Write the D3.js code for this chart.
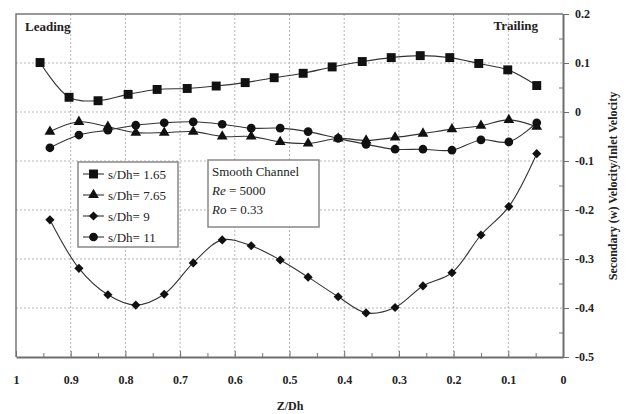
<!DOCTYPE html>
<html>
<head>
<meta charset="utf-8">
<script src="https://cdn.jsdelivr.net/npm/d3@7"></script>
<style>
  body { margin: 0; background: #fff; }
  text { font-family: "Liberation Serif", "DejaVu Serif", serif; fill: #222; }
</style>
</head>
<body>
<svg id="chart" width="640" height="414"></svg>
<script>
// Z/Dh positions
const zSquare = [0.956, 0.903, 0.850, 0.795, 0.742, 0.687, 0.634, 0.581, 0.528, 0.475, 0.422, 0.367, 0.314, 0.261, 0.207, 0.154, 0.101, 0.048];
const zOther = [0.938, 0.885, 0.832, 0.781, 0.729, 0.676, 0.623, 0.570, 0.517, 0.466, 0.411, 0.360, 0.307, 0.256, 0.203, 0.150, 0.099, 0.048];

// secondary velocity / inlet velocity
const s165 = [0.101, 0.030, 0.023, 0.036, 0.046, 0.048, 0.053, 0.060, 0.070, 0.079, 0.092, 0.103, 0.111, 0.115, 0.111, 0.099, 0.086, 0.054];
const s765 = [-0.040, -0.020, -0.030, -0.042, -0.042, -0.040, -0.050, -0.050, -0.061, -0.064, -0.054, -0.058, -0.052, -0.044, -0.035, -0.028, -0.016, -0.030];
const s9 = [-0.220, -0.319, -0.373, -0.394, -0.372, -0.308, -0.261, -0.273, -0.302, -0.337, -0.377, -0.410, -0.399, -0.355, -0.328, -0.251, -0.193, -0.085];
const s11 = [-0.073, -0.047, -0.037, -0.027, -0.022, -0.020, -0.025, -0.033, -0.033, -0.040, -0.054, -0.066, -0.076, -0.076, -0.078, -0.057, -0.061, -0.022];

const seriesNames = ["s/Dh= 1.65", "s/Dh= 7.65", "s/Dh= 9", "s/Dh= 11"];
const xTicks = [1, 0.9, 0.8, 0.7, 0.6, 0.5, 0.4, 0.3, 0.2, 0.1, 0];
const yTicks = [0.2, 0.1, 0, -0.1, -0.2, -0.3, -0.4, -0.5];
const boxLines = ["Smooth Channel", "Re = 5000", "Ro = 0.33"];

// square-ish diamond like the plotting program's marker
const symbolRhomb = {
    draw(ctx, size) {
        const r = Math.sqrt(size / 2);
        ctx.moveTo(0, -r);
        ctx.lineTo(r, 0);
        ctx.lineTo(0, r);
        ctx.lineTo(-r, 0);
        ctx.closePath();
    }
};

const series = [
    { name: seriesNames[0], z: zSquare, v: s165, sym: d3.symbolSquare, size: 80 },
    { name: seriesNames[1], z: zOther, v: s765, sym: d3.symbolTriangle, size: 50 },
    { name: seriesNames[2], z: zOther, v: s9, sym: symbolRhomb, size: 42 },
    { name: seriesNames[3], z: zOther, v: s11, sym: d3.symbolCircle, size: 60 }
];

const plotL = 16, plotR = 563, plotT = 14, plotB = 357;

const x = d3.scaleLinear().domain([1, 0]).range([plotL, plotR]);
const y = d3.scaleLinear().domain([-0.5, 0.2]).range([plotB, plotT]);

const svg = d3.select("#chart");
const fmt = d => d === 0 ? "0" : d === 1 ? "1" : d3.format(".1f")(d).replace("\u2212", "-");

// dotted grid
svg.append("g")
    .selectAll("line")
    .data(xTicks.slice(1, -1))
    .join("line")
    .attr("x1", d => x(d)).attr("x2", d => x(d))
    .attr("y1", plotT).attr("y2", plotB)
    .attr("stroke", "#b5b5b5")
    .attr("stroke-dasharray", "2,2");

svg.append("g")
    .selectAll("line")
    .data(yTicks.slice(1, -1))
    .join("line")
    .attr("x1", plotL).attr("x2", plotR)
    .attr("y1", d => y(d)).attr("y2", d => y(d))
    .attr("stroke", "#b5b5b5")
    .attr("stroke-dasharray", "2,2");

// frame top + left
svg.append("path")
    .attr("d", `M${plotL},${plotB}V${plotT}H${plotR}`)
    .attr("fill", "none")
    .attr("stroke", "#777")
    .attr("stroke-width", 1.5);

// bottom axis
const xMinor = d3.range(0.05, 1, 0.1);
svg.append("g")
    .attr("transform", `translate(0,${plotB})`)
    .call(d3.axisBottom(x).tickValues(xMinor).tickSize(-4).tickFormat(""))
    .call(g => g.select(".domain").remove())
    .call(g => g.selectAll("line").attr("stroke", "#777"));

const xAxis = svg.append("g")
    .attr("transform", `translate(0,${plotB})`)
    .call(d3.axisBottom(x).tickValues(xTicks).tickSize(-6).tickSizeOuter(0).tickFormat(fmt));
xAxis.select(".domain").attr("stroke", "#6e6e6e").attr("stroke-width", 2);
xAxis.selectAll("line").attr("stroke", "#6e6e6e");
xAxis.selectAll("text")
    .attr("y", 18)
    .attr("font-size", 12)
    .attr("font-weight", "bold")
    .attr("font-family", "Liberation Serif")
    .attr("fill", "#444");

// right axis
const yMinor = d3.range(-0.45, 0.2, 0.1);
svg.append("g")
    .attr("transform", `translate(${plotR},0)`)
    .call(d3.axisRight(y).tickValues(yMinor).tickSize(-4).tickFormat(""))
    .call(g => g.select(".domain").remove())
    .call(g => g.selectAll("line").attr("stroke", "#777"));

const yAxis = svg.append("g")
    .attr("transform", `translate(${plotR},0)`)
    .call(d3.axisRight(y).tickValues(yTicks).tickSize(6).tickPadding(6).tickSizeOuter(0).tickFormat(fmt));
yAxis.select(".domain").attr("stroke", "#6e6e6e").attr("stroke-width", 2);
yAxis.selectAll("line").attr("stroke", "#6e6e6e");
yAxis.selectAll("text")
    .attr("font-size", 12)
    .attr("font-weight", "bold")
    .attr("font-family", "Liberation Serif")
    .attr("fill", "#444");

// axis titles
svg.append("text")
    .attr("x", 290).attr("y", 410)
    .attr("text-anchor", "middle")
    .attr("font-size", 12)
    .attr("font-weight", "bold")
    .text("Z/Dh");

svg.append("text")
    .attr("transform", "translate(617,186) rotate(-90)")
    .attr("text-anchor", "middle")
    .attr("font-size", 12)
    .attr("font-weight", "bold")
    .text("Secondary (w) Velocity/Inlet Velocity");

svg.append("text")
    .attr("x", 25).attr("y", 31)
    .attr("font-size", 13)
    .attr("font-weight", "bold")
    .text("Leading");

svg.append("text")
    .attr("x", 538).attr("y", 30)
    .attr("text-anchor", "end")
    .attr("font-size", 13)
    .attr("font-weight", "bold")
    .text("Trailing");

// series
const line = d3.line()
    .x(d => x(d[0]))
    .y(d => y(d[1]))
    .curve(d3.curveCatmullRom.alpha(0.5));

series.forEach(s => {
    const pts = s.z.map((z, i) => [z, s.v[i]]);
    svg.append("path")
        .datum(pts)
        .attr("d", line)
        .attr("fill", "none")
        .attr("stroke", "#333")
        .attr("stroke-width", 1.1);
    svg.append("g")
        .selectAll("path")
        .data(pts)
        .join("path")
        .attr("transform", d => `translate(${x(d[0])},${y(d[1])})`)
        .attr("d", d3.symbol(s.sym, s.size))
        .attr("fill", "#111");
});

// legend
const legend = svg.append("g");
legend.append("rect")
    .attr("x", 78).attr("y", 162)
    .attr("width", 100).attr("height", 85)
    .attr("fill", "#fff")
    .attr("stroke", "#888")
    .attr("stroke-width", 1.5);

const legendY = d3.scalePoint().domain(seriesNames).range([174, 237]);
series.forEach(s => {
    const ly = legendY(s.name);
    legend.append("line")
        .attr("x1", 83).attr("x2", 104)
        .attr("y1", ly).attr("y2", ly)
        .attr("stroke", "#333")
        .attr("stroke-width", 1.1);
    legend.append("path")
        .attr("transform", `translate(93.5,${ly})`)
        .attr("d", d3.symbol(s.sym, s.size))
        .attr("fill", "#111");
    legend.append("text")
        .attr("x", 108).attr("y", ly + 4.5)
        .attr("font-size", 13)
        .text(s.name);
});

// info box
const info = svg.append("g");
info.append("rect")
    .attr("x", 208).attr("y", 160)
    .attr("width", 111).attr("height", 67)
    .attr("fill", "#fff")
    .attr("stroke", "#888")
    .attr("stroke-width", 1.5);

info.append("text").attr("x", 212).attr("y", 176).attr("font-size", 13).text(boxLines[0]);
[1, 2].forEach((k, i) => {
    const parts = boxLines[k].split(" = ");
    const t = info.append("text").attr("x", 212).attr("y", 195 + i * 19).attr("font-size", 13);
    t.append("tspan").attr("font-style", "italic").text(parts[0]);
    t.append("tspan").text(" = " + parts[1]);
});
</script>
</body>
</html>
